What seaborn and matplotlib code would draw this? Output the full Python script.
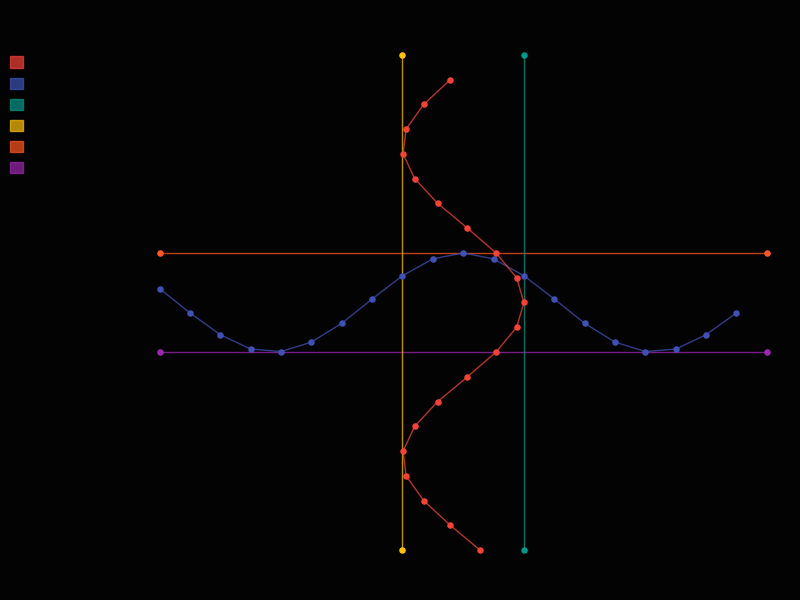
import matplotlib
matplotlib.use("Agg")
import matplotlib.pyplot as plt
import seaborn as sns
import pandas as pd
from matplotlib.patches import Patch

# Data
blue_x = [-5.0, -4.5, -4.0, -3.5, -3.0, -2.5, -2.0, -1.5, -1.0, -0.5,
          0.0, 0.5, 1.0, 1.5, 2.0, 2.5, 3.0, 3.5, 4.0, 4.5]
blue_y = [0.28, -0.21, -0.65, -0.94, -0.99, -0.80, -0.42, 0.07, 0.54, 0.88,
          1.00, 0.88, 0.54, 0.07, -0.42, -0.80, -0.99, -0.94, -0.65, -0.21]
red_y = blue_x
red_x = blue_y
teal_x = [1, 1]
teal_y = [-5, 5]
yellow_x = [-1, -1]
yellow_y = [-5, 5]
orange_x = [-5, 5]
orange_y = [1, 1]
purple_x = [-5, 5]
purple_y = [-1, -1]

colors = {
    "red": "#f44336",
    "blue": "#3f51b5",
    "teal": "#009688",
    "yellow": "#ffc107",
    "orange": "#ff5722",
    "purple": "#9c27b0",
}
series = [
    ("red", red_x, red_y),
    ("blue", blue_x, blue_y),
    ("teal", teal_x, teal_y),
    ("yellow", yellow_x, yellow_y),
    ("orange", orange_x, orange_y),
    ("purple", purple_x, purple_y),
]

sns.set_theme(style="dark")
bg = "#030303"
fig = plt.figure(figsize=(8, 6), dpi=100, facecolor=bg)
ax = fig.add_axes([0.1615, 0.0417, 0.835, 0.9083])
ax.set_facecolor(bg)

draw_order = ["purple", "orange", "yellow", "teal", "blue", "red"]
lookup = {n: (x, y) for n, x, y in series}
for name in draw_order:
    x, y = lookup[name]
    df = pd.DataFrame({"x": x, "y": y})
    sns.lineplot(data=df, x="x", y="y", sort=False, estimator=None,
                 color=colors[name], alpha=0.75, linewidth=1.0, ax=ax)
    sns.scatterplot(data=df, x="x", y="y", color=colors[name], s=22,
                    linewidth=0, ax=ax, zorder=3)

ax.set_xlim(-5.5, 5.5)
ax.set_ylim(-5.5, 5.5)
ax.set_xticks([])
ax.set_yticks([])
ax.set_xlabel("")
ax.set_ylabel("")
for s in ax.spines.values():
    s.set_visible(False)
ax.grid(False)

handles = [Patch(facecolor=colors[n], edgecolor=colors[n], alpha=0.7, linewidth=1)
           for n, _, _ in series]
fig.legend(handles=handles, labels=[" "] * len(handles), loc="upper left",
           bbox_to_anchor=(0.0125, 0.9067), frameon=False, borderpad=0,
           borderaxespad=0, fontsize=10, handlelength=0.9, handleheight=0.9,
           labelspacing=0.51, handletextpad=0.3)

fig.savefig("out.png", dpi=100, facecolor=bg)
